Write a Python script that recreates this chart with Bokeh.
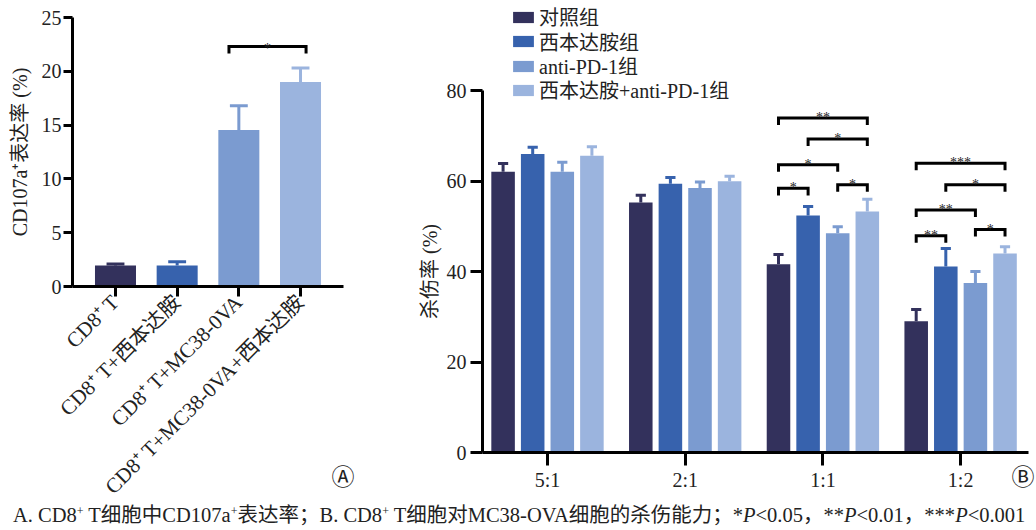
import numpy as np
from bokeh.plotting import figure
from bokeh.models import (ColumnDataSource, FixedTicker, Legend, LegendItem, Div, Range1d)
from bokeh.layouts import row, column
from bokeh.embed import file_html
from bokeh.resources import INLINE
from bokeh.core.properties import value

SERIF = "Liberation Serif, Noto Sans CJK SC"
TXT = "#222222"

# ---------------- Panel A data ----------------
a_cats = ["CD8⁺ T", "CD8⁺ T+西本达胺", "CD8⁺ T+MC38-0VA", "CD8⁺ T+MC38-0VA+西本达胺"]
a_vals = [1.95, 1.95, 14.55, 19.0]
a_err = [0.15, 0.35, 2.25, 1.3]
a_ticks = [0, 5, 10, 15, 20, 25]
a_sig_i = [2]
a_sig_j = [3]
a_sig_y = [22.3]
a_sig_lab = ["*"]

# ---------------- Panel B data ----------------
b_ratios = ["5:1", "2:1", "1:1", "1:2"]
b_groups = ["对照组", "西本达胺组", "anti-PD-1组", "西本达胺+anti-PD-1组"]
b_ctrl = [62.1, 55.3, 41.6, 29.0]
b_ctrl_err = [1.8, 1.6, 2.2, 2.6]
b_cid = [66.0, 59.4, 52.4, 41.1]
b_cid_err = [1.5, 1.4, 2.0, 4.0]
b_pd1 = [62.1, 58.5, 48.5, 37.5]
b_pd1_err = [2.1, 1.3, 1.4, 2.5]
b_combo = [65.6, 60.0, 53.3, 44.0]
b_combo_err = [2.0, 1.1, 2.7, 1.5]
b_ticks = [0, 20, 40, 60, 80]
# significance brackets: ratio index, bar i, bar j, height, label
b_sig_g = [2, 2, 2, 2, 2, 3, 3, 3, 3, 3]
b_sig_i = [0, 1, 0, 0, 2, 0, 1, 0, 0, 2]
b_sig_j = [3, 3, 2, 1, 3, 3, 3, 2, 1, 3]
b_sig_y = [73.95, 69.3, 63.6, 58.4, 59.2, 63.95, 59.2, 53.6, 47.9, 49.3]
b_sig_lab = ["**", "*", "*", "*", "*", "***", "*", "**", "**", "*"]

colors = ["#33315c", "#3762ad", "#7b9bd0", "#9bb4de"]


def style_axes(p, xt_out, yt_out):
    for ax in (p.xaxis, p.yaxis):
        ax.axis_line_width = 3
        ax.axis_line_color = "black"
        ax.major_tick_line_width = 3
        ax.major_tick_line_color = "black"
        ax.major_tick_in = 0
        ax.minor_tick_line_color = None
        ax.major_label_text_font = SERIF
        ax.major_label_text_font_size = "20px"
        ax.major_label_text_color = TXT
        ax.axis_label_text_font = SERIF
        ax.axis_label_text_font_size = "20px"
        ax.axis_label_text_font_style = "normal"
        ax.axis_label_text_color = TXT
    p.xaxis.major_tick_out = xt_out
    p.yaxis.major_tick_out = yt_out
    p.xgrid.grid_line_color = None
    p.ygrid.grid_line_color = None
    p.outline_line_color = None
    p.border_fill_color = None
    p.background_fill_color = None


# ================= Panel A =================
pA = figure(width=398, height=520, x_range=Range1d(-0.697, 3.697), y_range=Range1d(0, 25),
            output_backend="svg", toolbar_location=None, frame_align=False,
            min_border_left=72, min_border_right=55, min_border_top=17, min_border_bottom=234)
style_axes(pA, 10, 9)
xa = list(range(len(a_vals)))
capA = 0.145
srcA = ColumnDataSource(dict(
    x=xa, top=a_vals, up=[v + e for v, e in zip(a_vals, a_err)], color=colors,
    c0=[x - capA for x in xa], c1=[x + capA for x in xa]))
pA.vbar(x="x", top="top", width=0.665, fill_color="color", line_color=None, source=srcA)
pA.segment(x0="x", y0="top", x1="x", y1="up", line_color="color", line_width=3, source=srcA)
pA.segment(x0="c0", y0="up", x1="c1", y1="up", line_color="color", line_width=3, source=srcA)

tA = 0.65
axs, ays, atx = [], [], []
for i, j, y in zip(a_sig_i, a_sig_j, a_sig_y):
    x0, x1 = i - 0.16, j + 0.09
    axs.append([x0, x0, x1, x1])
    ays.append([y - tA, y, y, y - tA])
    atx.append((x0 + x1) / 2)
pA.multi_line(xs=axs, ys=ays, line_color="black", line_width=3, line_join="miter")
pA.text(x=atx, y=a_sig_y, text=a_sig_lab, text_align="center", text_baseline="alphabetic",
        text_font=value(SERIF), text_font_size="14px", text_color=TXT, y_offset=1.5)

pA.xaxis.ticker = FixedTicker(ticks=xa)
pA.xaxis.major_label_overrides = {i: c for i, c in enumerate(a_cats)}
pA.xaxis.major_label_orientation = np.pi / 4
pA.xaxis.major_label_standoff = 2
pA.xaxis.major_label_text_font_size = "21px"
pA.yaxis.ticker = FixedTicker(ticks=a_ticks)
pA.yaxis.major_label_standoff = 2
pA.yaxis.axis_label = "CD107a⁺表达率 (%)"
pA.yaxis.axis_label_standoff = 8

# ================= Panel B =================
pB = figure(width=638, height=520, x_range=Range1d(-0.472, 3.493), y_range=Range1d(0, 99.94),
            output_backend="svg", toolbar_location=None, frame_align=False,
            min_border_left=84, min_border_right=8, min_border_top=0, min_border_bottom=68)
style_axes(pB, 13, 12)
pB.yaxis.bounds = (0, 80)

xb = list(range(len(b_ratios)))
series = [(b_ctrl, b_ctrl_err), (b_cid, b_cid_err), (b_pd1, b_pd1_err), (b_combo, b_combo_err)]
pitch = 0.215
bw = 0.171
capB = 0.037
renderers = []
bar_x = {}
for k, (vals, errs) in enumerate(series):
    off = (k - 1.5) * pitch
    xs = [x + off for x in xb]
    for g, x in zip(xb, xs):
        bar_x[(g, k)] = x
    src = ColumnDataSource(dict(x=xs, top=vals, up=[v + e for v, e in zip(vals, errs)],
                                c0=[x - capB for x in xs], c1=[x + capB for x in xs]))
    r = pB.vbar(x="x", top="top", width=bw, fill_color=colors[k], line_color=None, source=src)
    pB.segment(x0="x", y0="top", x1="x", y1="up", line_color=colors[k], line_width=3, source=src)
    pB.segment(x0="c0", y0="up", x1="c1", y1="up", line_color=colors[k], line_width=3, source=src)
    renderers.append(r)

tB = 1.55
bxs, bys, btx = [], [], []
for g, i, j, y in zip(b_sig_g, b_sig_i, b_sig_j, b_sig_y):
    x0, x1 = bar_x[(g, i)], bar_x[(g, j)]
    bxs.append([x0, x0, x1, x1])
    bys.append([y - tB, y, y, y - tB])
    btx.append((x0 + x1) / 2)
pB.multi_line(xs=bxs, ys=bys, line_color="black", line_width=3, line_join="miter")
pB.text(x=btx, y=b_sig_y, text=b_sig_lab, text_align="center", text_baseline="alphabetic",
        text_font=value(SERIF), text_font_size="14px", text_color=TXT, y_offset=-0.5)

pB.xaxis.ticker = FixedTicker(ticks=xb)
pB.xaxis.major_label_overrides = {i: c for i, c in enumerate(b_ratios)}
pB.xaxis.major_label_standoff = 3
pB.yaxis.ticker = FixedTicker(ticks=b_ticks)
pB.yaxis.major_label_standoff = 4
# trailing em/en spaces keep the visible label centred on the 0-80 axis span
pB.yaxis.axis_label = "杀伤率 (%)" + "\u2003" * 4 + "\u2002"
pB.yaxis.axis_label_standoff = 3

# one legend entry per row so the rows sit as tightly as in the original
row_centres = [18, 42.5, 67, 91]
for g, r, c in zip(b_groups, renderers, row_centres):
    lg = Legend(items=[LegendItem(label=g, renderers=[r])],
                location=(28, 439 - c), padding=0, margin=0, spacing=0,
                glyph_width=26, glyph_height=14, label_height=20, label_standoff=3,
                border_line_color=None, background_fill_alpha=0,
                label_text_font=SERIF, label_text_font_size="20px", label_text_color=TXT)
    pB.add_layout(lg)

# ================= Caption (with panel marks) =================
sup = '<sup style="font-size:12px;vertical-align:7px;line-height:0">+</sup>'
mark = ('<span style="position:absolute;top:-35px;left:{}px;width:26px;text-align:center;'
        'font-size:23px;line-height:26px">{}</span>')
cap_html = (
    '<div style="position:relative;font-family:\'Liberation Serif\',\'Noto Sans CJK SC\';'
    'font-size:20.5px;color:#222;white-space:nowrap;line-height:30px;padding-left:13px">'
    + mark.format(330, "Ⓐ") + mark.format(1010, "Ⓑ") +
    f'A. CD8{sup} T细胞中CD107a{sup}表达率；B. CD8{sup} T细胞对MC38-OVA细胞的杀伤能力；'
    '*<i>P</i>&lt;0.05，**<i>P</i>&lt;0.01，***<i>P</i>&lt;0.001</div>'
)
cap = Div(text=cap_html, width=1036, height=30, margin=(-20, 0, 0, 0))

layout = column(row(pA, pB), cap)
open("out.html", "w").write(file_html(layout, INLINE))
